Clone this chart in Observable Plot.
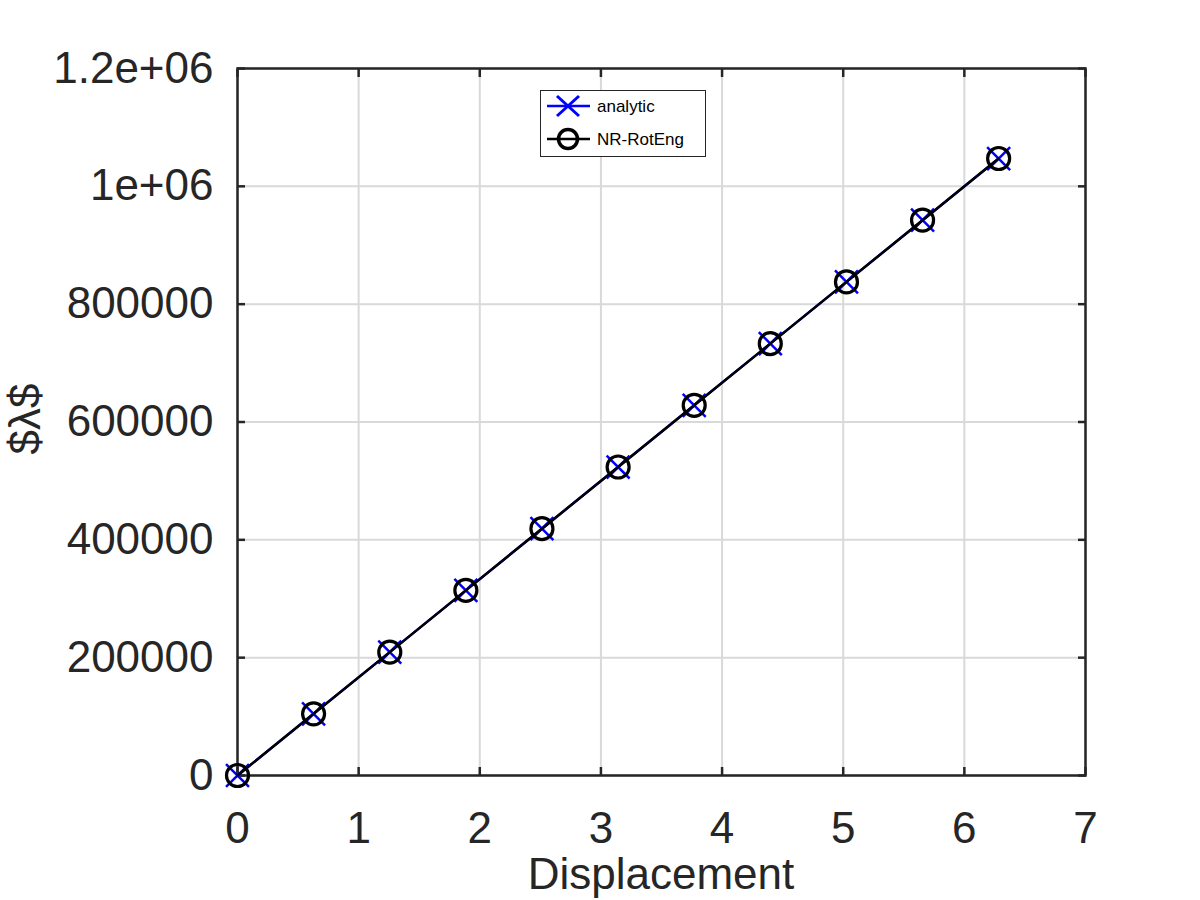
<!DOCTYPE html>
<html>
<head>
<meta charset="utf-8">
<script src="https://cdn.jsdelivr.net/npm/d3@7"></script>
<script src="https://cdn.jsdelivr.net/npm/@observablehq/plot@0.6"></script>
<style>
  html, body { margin: 0; padding: 0; background: #fff; }
  svg { display: block; }
</style>
</head>
<body>
<div id="chart"></div>
<script>
const displacement = [0, 0.628, 1.257, 1.885, 2.513, 3.142, 3.770, 4.398, 5.027, 5.655, 6.283];
const analytic = [0, 104700, 209400, 314200, 418900, 523600, 628300, 733000, 837800, 942500, 1047200];
const nrRotEng = [0, 104700, 209400, 314200, 418900, 523600, 628300, 733000, 837800, 942500, 1047200];
const xTicks = [0, 1, 2, 3, 4, 5, 6, 7];
const xTickLabels = ["0", "1", "2", "3", "4", "5", "6", "7"];
const yTicks = [0, 200000, 400000, 600000, 800000, 1000000, 1200000];
const yTickLabels = ["0", "200000", "400000", "600000", "800000", "1e+06", "1.2e+06"];
const seriesNames = ["analytic", "NR-RotEng"];

const dataA = displacement.map((x, i) => ({x, y: analytic[i]}));
const dataN = displacement.map((x, i) => ({x, y: nrRotEng[i]}));

const font = "'Liberation Sans', Arial, sans-serif";
const axisColor = "#262626";
const fs = 44;

const plot = Plot.plot({
  width: 1200,
  height: 900,
  marginLeft: 237,
  marginRight: 115,
  marginTop: 68,
  marginBottom: 125,
  style: {fontFamily: font, fontSize: fs + "px", color: axisColor, background: "#fff"},
  x: {domain: [0, 7]},
  y: {domain: [0, 1200000]},
  marks: [
    Plot.gridX(xTicks, {stroke: "#d9d9d9", strokeOpacity: 1, strokeWidth: 2}),
    Plot.gridY(yTicks, {stroke: "#d9d9d9", strokeOpacity: 1, strokeWidth: 2}),
    Plot.axisX(xTicks, {anchor: "bottom", tickSize: -8, tickPadding: 44, label: null, stroke: axisColor, strokeWidth: 2.5, fill: axisColor, fontSize: fs,
      tickFormat: d => xTickLabels[xTicks.indexOf(d)]}),
    Plot.axisX(xTicks, {anchor: "top", tickSize: -8, text: null, label: null, stroke: axisColor, strokeWidth: 2.5}),
    Plot.axisY(yTicks, {anchor: "left", tickSize: -8, tickPadding: 32, label: null, stroke: axisColor, strokeWidth: 2.5, fill: axisColor, fontSize: fs,
      tickFormat: d => yTickLabels[yTicks.indexOf(d)]}),
    Plot.axisY(yTicks, {anchor: "right", tickSize: -8, text: null, label: null, stroke: axisColor, strokeWidth: 2.5}),
    Plot.frame({stroke: axisColor, strokeWidth: 2.5}),
    Plot.line(dataA, {x: "x", y: "y", stroke: "#0000ff", strokeWidth: 2.5}),
    Plot.dot(dataA, {x: "x", y: "y", symbol: "times", r: 10.5, stroke: "#0000ff", strokeWidth: 2.5}),
    Plot.line(dataN, {x: "x", y: "y", stroke: "#000", strokeWidth: 2.5}),
    Plot.dot(dataN, {x: "x", y: "y", symbol: "circle", r: 11, stroke: "#000", strokeWidth: 3.2, fill: "none"})
  ]
});

document.getElementById("chart").appendChild(plot);

const svg = d3.select(plot);
// axis labels
svg.append("text")
  .attr("x", 661).attr("y", 889)
  .attr("text-anchor", "middle")
  .attr("font-family", font).attr("font-size", fs).attr("fill", axisColor)
  .text("Displacement");
svg.append("text")
  .attr("transform", "translate(40,419) rotate(-90)")
  .attr("text-anchor", "middle")
  .attr("font-family", font).attr("font-size", fs).attr("fill", axisColor)
  .text("$λ$");

// legend
const lg = svg.append("g").attr("font-family", font).attr("font-size", 17).attr("text-anchor", "start");
lg.append("rect").attr("x", 540.5).attr("y", 90.5).attr("width", 165).attr("height", 66)
  .attr("fill", "#fff").attr("stroke", axisColor).attr("stroke-width", 1);
const rows = [
  {name: seriesNames[0], y: 106, color: "#0000ff", sym: "x"},
  {name: seriesNames[1], y: 139, color: "#000", sym: "o"}
];
rows.forEach(r => {
  lg.append("line").attr("x1", 547).attr("x2", 590).attr("y1", r.y).attr("y2", r.y)
    .attr("stroke", r.color).attr("stroke-width", 2.5);
  if (r.sym === "x") {
    lg.append("path").attr("d", `M${568-11},${r.y-10}L${568+11},${r.y+10}M${568-11},${r.y+10}L${568+11},${r.y-10}`)
      .attr("stroke", r.color).attr("stroke-width", 3);
  } else {
    lg.append("circle").attr("cx", 568).attr("cy", r.y).attr("r", 9.5)
      .attr("stroke", r.color).attr("stroke-width", 3.5).attr("fill", "none");
  }
  lg.append("text").attr("x", 597).attr("y", r.y + 6).attr("fill", "#000").attr("text-anchor", "start").text(r.name);
});
</script>
</body>
</html>
